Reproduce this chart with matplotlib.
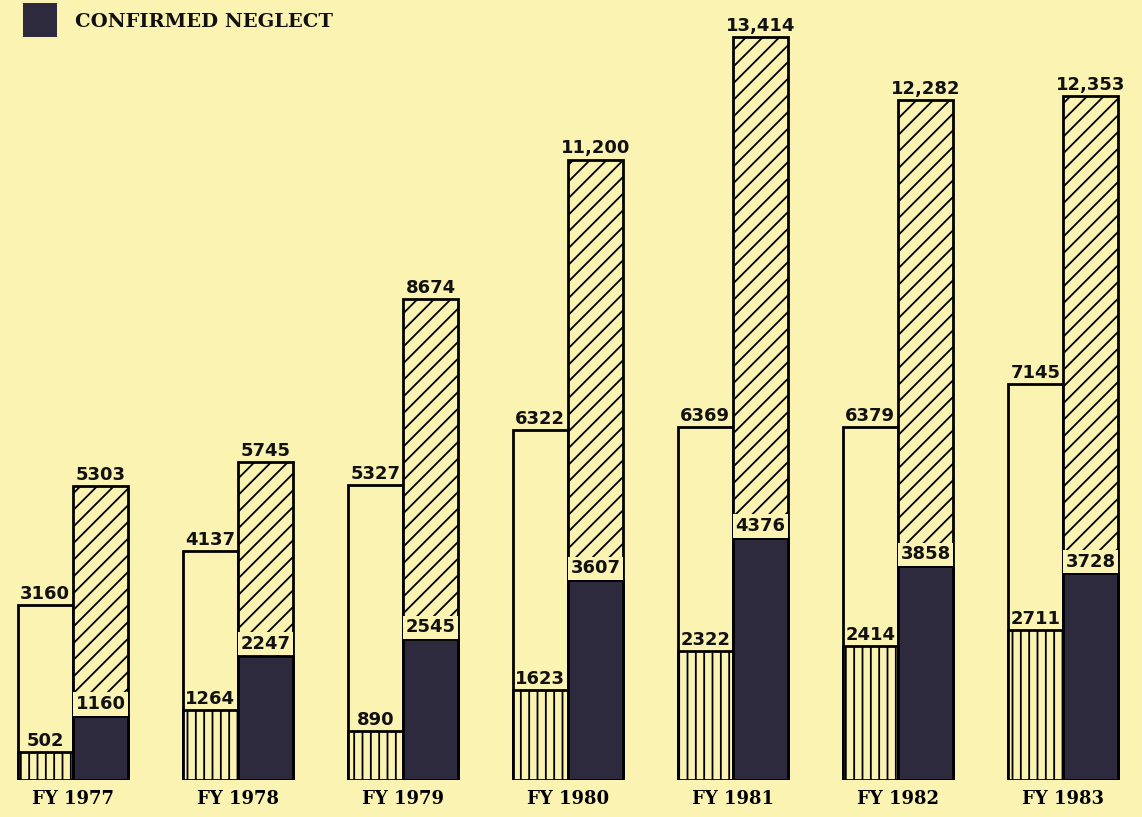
import matplotlib.pyplot as plt
from matplotlib.patches import Rectangle

years = ["FY 1977", "FY 1978", "FY 1979", "FY 1980", "FY 1981", "FY 1982", "FY 1983"]
abuse_reports = [3160, 4137, 5327, 6322, 6369, 6379, 7145]
abuse_confirmed = [502, 1264, 890, 1623, 2322, 2414, 2711]
neglect_reports = [5303, 5745, 8674, 11200, 13414, 12282, 12353]
neglect_confirmed = [1160, 2247, 2545, 3607, 4376, 3858, 3728]

BG = "#fbf3b2"
DARK = "#2e2a3e"


def fmt(v):
    return f"{v:,}" if v >= 10000 else str(v)


plt.rcParams["hatch.linewidth"] = 1.3

fig = plt.figure(figsize=(11.42, 8.17), dpi=100, facecolor=BG)
ax = fig.add_axes([0, 0.0453, 1, 0.9547])
ax.set_facecolor(BG)

w = 0.335
x = list(range(len(years)))
xl = [i - w / 2 for i in x]
xr = [i + w / 2 for i in x]

# left bar: abuse reports, vertical hatch = confirmed abuse
ax.bar(xl, abuse_reports, width=w, facecolor=BG, edgecolor="black", linewidth=2.0, zorder=2)
ax.bar(xl, abuse_confirmed, width=w, facecolor=BG, edgecolor="black", hatch="||",
       linewidth=2.0, zorder=3)

# right bar: neglect reports (diagonal hatch), dark = confirmed neglect
ax.bar(xr, neglect_reports, width=w, facecolor=BG, edgecolor="black", hatch="//",
       linewidth=2.0, zorder=2)
ax.bar(xr, neglect_confirmed, width=w, facecolor=DARK, edgecolor="black",
       linewidth=2.0, zorder=3)

lab = dict(ha="center", va="bottom", fontsize=13, fontweight="bold",
           family="DejaVu Sans", color="#111111", textcoords="offset points")
for i in x:
    ax.annotate(fmt(abuse_reports[i]), (xl[i], abuse_reports[i]), xytext=(0, 1.5), zorder=5, **lab)
    ax.annotate(fmt(abuse_confirmed[i]), (xl[i], abuse_confirmed[i]), xytext=(0, 1.5), zorder=5, **lab)
    ax.annotate(fmt(neglect_reports[i]), (xr[i], neglect_reports[i]), xytext=(0, 1.5), zorder=5, **lab)
    ax.annotate(fmt(neglect_confirmed[i]), (xr[i], neglect_confirmed[i]), xytext=(0, 2.0),
                zorder=5, bbox=dict(boxstyle="square,pad=0.15", facecolor=BG, edgecolor="none"),
                **lab)

ax.set_xlim(-0.442, 6.479)
ax.set_ylim(0, 14080)
ax.set_xticks(x)
ax.set_xticklabels(years, fontsize=13, fontweight="bold", family="DejaVu Serif")
ax.tick_params(axis="x", length=0, pad=7)
ax.set_yticks([])
for s in ax.spines.values():
    s.set_visible(False)

# legend swatch, top-left
fig.patches.append(Rectangle((23 / 1142, 1 - 37 / 817), 34 / 1142, 34 / 817,
                             transform=fig.transFigure, facecolor=DARK, edgecolor="none"))
fig.text(75 / 1142, 1 - 22 / 817, "CONFIRMED NEGLECT", ha="left", va="center",
         family="DejaVu Serif", fontweight="bold", fontsize=14, color="#111111")

fig.savefig("out.png", facecolor=BG)
